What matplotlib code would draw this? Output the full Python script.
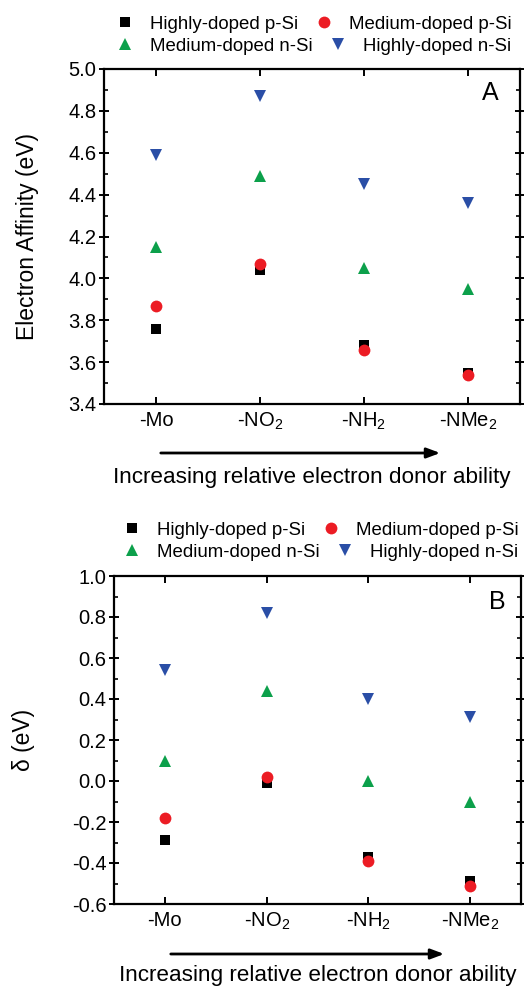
import numpy as np
import matplotlib
matplotlib.use("Agg")
import matplotlib.pyplot as plt
from matplotlib.ticker import MultipleLocator

plt.rcParams['font.family'] = ['Liberation Sans', 'DejaVu Sans']
plt.rcParams['mathtext.default'] = 'regular'

# data
groups = ['-Mo', '-NO$_2$', '-NH$_2$', '-NMe$_2$']
series = ['Highly-doped p-Si', 'Medium-doped p-Si', 'Medium-doped n-Si', 'Highly-doped n-Si']

ea_hp = [3.76, 4.04, 3.68, 3.55]
ea_mp = [3.87, 4.07, 3.66, 3.54]
ea_mn = [4.15, 4.49, 4.05, 3.95]
ea_hn = [4.59, 4.87, 4.45, 4.36]

d_hp = [-0.29, -0.01, -0.37, -0.49]
d_mp = [-0.18, 0.02, -0.39, -0.51]
d_mn = [0.10, 0.44, 0.00, -0.10]
d_hn = [0.54, 0.82, 0.40, 0.31]

markers = ['s', 'o', '^', 'v']
colors = ['#000000', '#ec1c24', '#0ca04b', '#2a4ea6']
msizes = [7.5, 8.5, 9, 9]

W, H = 524, 986
fig = plt.figure(figsize=(W / 100, H / 100), dpi=100)


def panel(rect, vals, ylim, ylabel, letter, letter_xy, leg_x, leg_rows, text_xy, ylabel_x):
    l, t, r, b = rect
    ax = fig.add_axes([l / W, 1 - b / H, (r - l) / W, (b - t) / H])
    x = np.arange(1, len(groups) + 1)
    handles = []
    for v, m, c, s, name in zip(vals, markers, colors, msizes, series):
        h, = ax.plot(x, v, linestyle='none', marker=m, color=c, markersize=s,
                     markeredgewidth=0, label=name)
        handles.append(h)
    ax.set_xlim(0.5, 4.5)
    ax.set_ylim(*ylim)
    ax.set_xticks(x)
    ax.set_xticklabels(groups)
    ax.yaxis.set_major_locator(MultipleLocator(0.2))
    ax.yaxis.set_minor_locator(MultipleLocator(0.1))
    ax.yaxis.set_major_formatter(matplotlib.ticker.FormatStrFormatter('%.1f'))
    for sp in ax.spines.values():
        sp.set_linewidth(1.6)
    ax.tick_params(axis='x', direction='in', top=True, length=5, width=1.4,
                   labelsize=14.5, pad=5)
    ax.tick_params(axis='y', which='major', direction='inout', right=True,
                   length=7, width=1.4, labelsize=14.5, pad=2)
    ax.tick_params(axis='y', which='minor', direction='in', right=True,
                   length=3, width=1.2)
    ax.set_ylabel(ylabel, fontsize=16.5)
    ax.yaxis.set_label_coords(ylabel_x / W, 1 - (t + b) / 2 / H, transform=fig.transFigure)
    ax.text(letter_xy[0] / W, 1 - letter_xy[1] / H, letter, transform=fig.transFigure,
            fontsize=18, ha='center', va='center')
    # one legend per row, as in the original
    for row, y in zip([[0, 1], [2, 3]], leg_rows):
        fig.legend([handles[i] for i in row], [series[i] for i in row],
                   loc='center left', bbox_to_anchor=(leg_x / W, 1 - y / H),
                   bbox_transform=fig.transFigure, ncol=2, frameon=False,
                   fontsize=13.4, handletextpad=0.75, columnspacing=0.75,
                   borderaxespad=0, borderpad=0, handlelength=1.2)
    fig.text(text_xy[0] / W, 1 - text_xy[1] / H, 'Increasing relative electron donor ability',
             fontsize=16.2, ha='center', va='center')
    return ax


ax1 = panel((104, 69, 520, 404), [ea_hp, ea_mp, ea_mn, ea_hn], (3.4, 5.0),
            'Electron Affinity (eV)', 'A', (490, 93), 114, (24, 46), (312, 478), 39)
ax2 = panel((114, 576, 521, 904), [d_hp, d_mp, d_mn, d_hn], (-0.6, 1.0),
            'δ (eV)', 'B', (497, 602), 121, (530, 552), (318, 976), 35)

for y, x0, x1 in [(453, 158, 443), (954, 168, 447)]:
    fig.add_artist(matplotlib.patches.FancyArrowPatch(
        (x0 / W, 1 - y / H), (x1 / W, 1 - y / H), transform=fig.transFigure,
        arrowstyle='-|>,head_length=8,head_width=3', color='black', linewidth=2,
        mutation_scale=1))

fig.savefig('out.png', dpi=100)
